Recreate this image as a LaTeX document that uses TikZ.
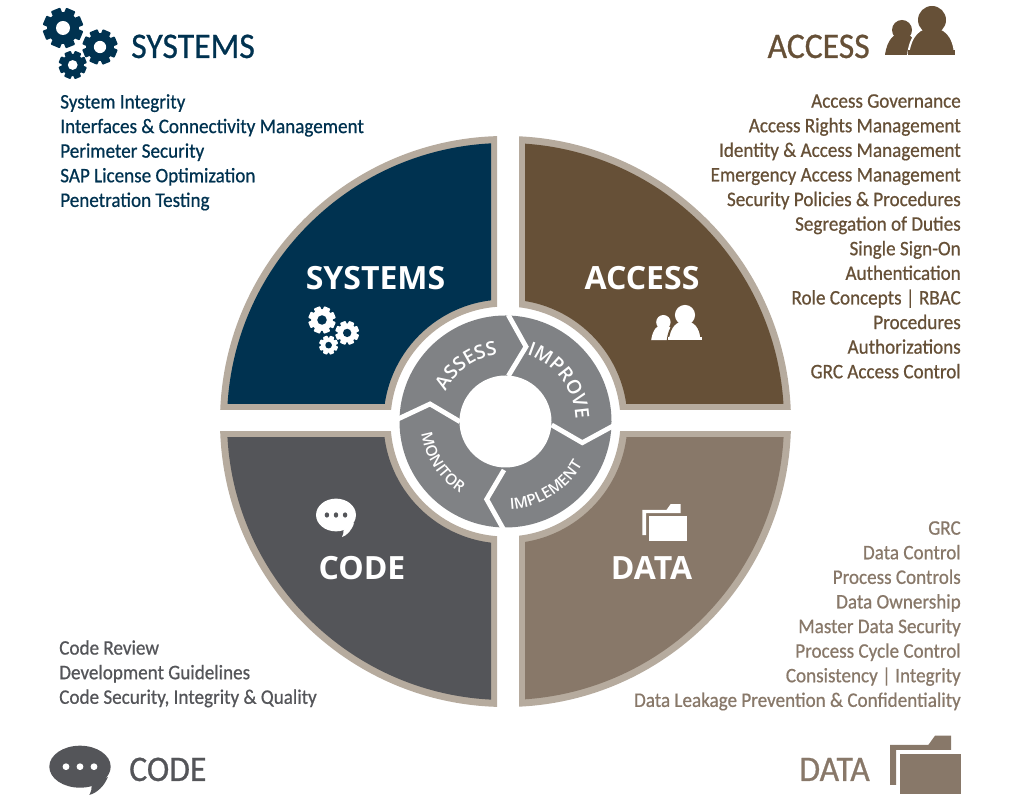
\documentclass[tikz,border=0pt]{standalone}
\usepackage{fontspec}
\usetikzlibrary{positioning,calc,decorations.text}
\newfontfamily\headfont[FakeStretch=.935,FakeBold=.7]{Carlito}
\newfontfamily\listfont[FakeStretch=.925,FakeBold=.7]{Carlito}
\newfontfamily\boldfont{Open Sans}
\newfontfamily\ringfont{Open Sans Semibold}
\definecolor{navy}{RGB}{0,50,80}
\definecolor{umber}{RGB}{102,80,55}
\definecolor{slate}{RGB}{84,85,89}
\definecolor{taupe}{RGB}{136,120,105}
\definecolor{rim}{RGB}{182,171,158}
\definecolor{wheel}{RGB}{128,130,133}
\tikzset{
  head/.style={font=\headfont\fontsize{27}{27}\selectfont,inner sep=0pt},
  plate/.style={font=\boldfont\bfseries\fontsize{24}{24}\selectfont,text=white,inner sep=0pt},
  items/.style={font=\listfont\fontsize{15.5}{18.45}\selectfont,inner sep=0pt},
  cut/.style={draw=white,line width=3.6pt,miter limit=10},
  tag/.style={decorate,decoration={text along path,text align=center,
    text={|\ringfont\fontsize{#1}{#1}\selectfont\color{white}|\currenttag}}},
}
% one quadrant: colour, rim corner, fill corner, far corner
\newcommand{\quadrant}[7]{
  \begin{scope}
    \clip (#2,#3) rectangle (#6,#7);
    \fill[rim,even odd rule] (c) circle[radius=285.5] (c) circle[radius=115];
  \end{scope}
  \begin{scope}
    \clip (#4,#5) rectangle (#6,#7);
    \fill[#1,even odd rule] (c) circle[radius=278.5] (c) circle[radius=122];
  \end{scope}
}
\newcommand{\gear}[5]{
  \begin{scope}[shift={(#1,#2)},scale=#3]
    \fill[#4] (0,0) circle[radius=.8];
    \foreach \a in {22,67,...,337}
      \fill[#4,rotate=\a,rounded corners=.6pt] (-.25,0) rectangle (.25,1);
    \fill[#5] (0,0) circle[radius=.35];
  \end{scope}
}
\newcommand{\gearset}[5]{
  \begin{scope}[shift={(#1,#2)},scale=#3]
    \gear{0}{0}{20}{#4}{#5}
    \gear{37}{-19}{17.5}{#4}{#5}
    \gear{9.7}{-37}{14}{#4}{#5}
  \end{scope}
}
\newcommand{\people}[5]{
  \begin{scope}[shift={(#1,#2)},scale=#3]
    \fill[#4] (-30,-10) circle[radius=10];
    \fill[#4] (-47,-35) .. controls (-45,-20) and (-38,-13) .. (-30,-13)
      .. controls (-22,-13) and (-15,-20) .. (-13,-35) -- cycle;
    \fill[#4,draw=#5,line width=1.5pt] (-24,-36) .. controls (-22,-15) and (-12,-7) .. (0,-7)
      .. controls (12,-7) and (22,-15) .. (23,-35) -- cycle;
    \fill[#4] (-24,-35) rectangle (23,-30);
    \fill[#4] (0,0) circle[radius=14];
  \end{scope}
}
\newcommand{\bubble}[5]{
  \begin{scope}[shift={(#1,#2)},#3]
    \fill[#4] (0,0) ellipse[x radius=30.7,y radius=21];
    \fill[#4] (28,-10) .. controls (24,-20) and (17,-26) .. (9.3,-28.3)
      .. controls (11,-25) and (12,-22) .. (11.7,-19) -- cycle;
    \foreach \d in {-14,0,14}
      \fill[#5] (\d,0) circle[radius=3.4];
  \end{scope}
}
\newcommand{\folder}[4]{
  \begin{scope}[shift={(#1,#2)},scale=#3]
    \fill[#4] (0,0) -- (38.3,0) -- (45,9.3) -- (61,9.3) -- (61,-5) -- (6,-5) -- (6,-40) -- (0,-40) -- cycle;
    \fill[#4] (10,-9) rectangle (71,-49.3);
  \end{scope}
}
\begin{document}
\begin{tikzpicture}[x=0.75pt,y=0.75pt]
\useasboundingbox (0,0) rectangle (1024,802);
\coordinate (c) at (505.5,380.5);
% four quadrants
\quadrant{navy}{497}{392}{491}{398}{0}{802}
\quadrant{umber}{519}{392}{525}{398}{1024}{802}
\quadrant{slate}{497}{370}{491}{364}{0}{0}
\quadrant{taupe}{519}{370}{525}{364}{1024}{0}
% wheel with four chevrons
\fill[wheel] (c) circle[radius=106];
\draw[cut] (508.3,487) -- (526,455.3) -- (508.3,426);
\draw[cut] (613,376) -- (582.3,359.3) -- (551.7,377);
\draw[cut] (505,270) -- (486.7,302.7) -- (504,332);
\draw[cut] (398,383) -- (430,398) -- (460,380.3);
\fill[white] (c) circle[radius=46];
\def\currenttag{ASSESS}
\path[tag=14.5] (c) ++(175:67) arc[start angle=175,end angle=75,radius=67];
\def\currenttag{IMPROVE}
\path[tag=14.5] (c) ++(90:70) arc[start angle=90,end angle=-16,radius=70];
\def\currenttag{IMPLEMENT}
\path[tag=11.5] (c) ++(-112:88) arc[start angle=-112,end angle=-4,radius=88];
\def\currenttag{MONITOR}
\path[tag=11.5] (c) ++(160:85) arc[start angle=160,end angle=266,radius=85];
% quadrant labels and icons
\node[plate] (sys) at (375.5,524) {SYSTEMS};
\node[plate] (acc) at (642,524) {ACCESS};
\node[plate] (cod) at (362,234) {CODE};
\node[plate] (dat) at (651.5,234) {DATA};
\gearset{322}{482}{.68}{white}{navy}
\people{685}{487}{.72}{white}{umber}
\bubble{336}{287}{xscale=.65,yscale=.78}{white}{slate}
\folder{642.3}{292}{.63}{white}
% corner headings
\gearset{63}{774}{1}{navy}{white}
\people{932}{782}{1}{umber}{white}
\bubble{80}{35.3}{scale=1}{slate}{white}
\folder{890}{57}{1}{taupe}
\node[head,text=navy,anchor=base west] (hsys) at (131,744) {SYSTEMS};
\node[head,text=umber,anchor=base east] (hacc) at (870,744) {ACCESS};
\node[head,text=slate,anchor=base west] (hcod) at (129,21) {CODE};
\node[head,text=taupe,anchor=base east] (hdat) at (870,21) {DATA};
% lists
\node[items,text=navy,align=left,anchor=north west] (lsys) at (60,708) {System Integrity\\
  Interfaces \& Connectivity Management\\ Perimeter Security\\
  SAP License Optimization\\ Penetration Testing};
\node[items,text=umber,align=right,anchor=north east] (lacc) at (961,708) {Access Governance\\
  Access Rights Management\\ Identity \& Access Management\\
  Emergency Access Management\\ Security Policies \& Procedures\\
  Segregation of Duties\\ Single Sign-On\\ Authentication\\
  Role Concepts | RBAC\\ Procedures\\ Authorizations\\ GRC Access Control};
\node[items,text=slate,align=left,anchor=north west] (lcod) at (59,162) {Code Review\\
  Development Guidelines\\ Code Security, Integrity \& Quality};
\node[items,text=taupe,align=right,anchor=north east] (ldat) at (961,281) {GRC\\
  Data Control\\ Process Controls\\ Data Ownership\\ Master Data Security\\
  Process Cycle Control\\ Consistency | Integrity\\
  Data Leakage Prevention \& Confidentiality};
\end{tikzpicture}
\end{document}
